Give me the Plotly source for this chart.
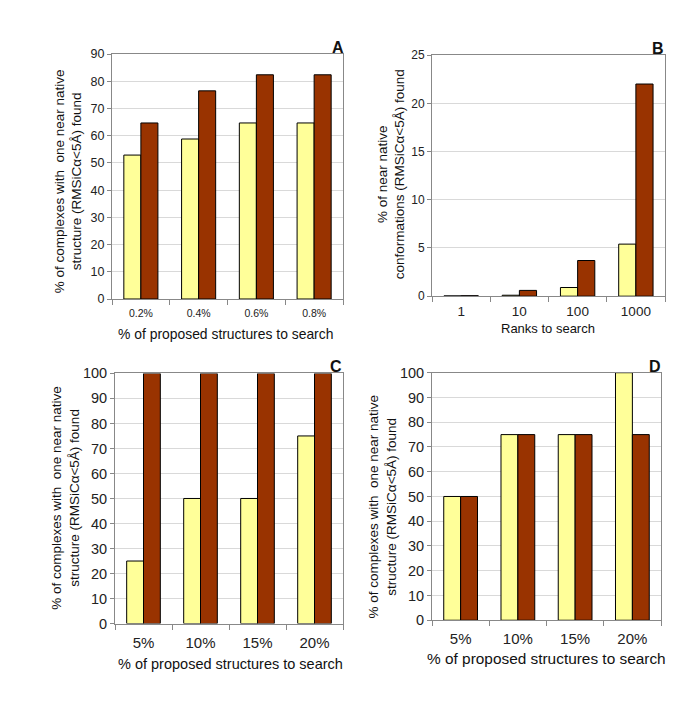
import plotly.graph_objects as go

W, H = 685, 704

# ---- data ----
cats_A = ["0.2%", "0.4%", "0.6%", "0.8%"]
yellow_A = [52.9, 58.8, 64.7, 64.7]
red_A = [64.7, 76.5, 82.4, 82.4]

cats_B = ["1", "10", "100", "1000"]
yellow_B = [0.03, 0.1, 0.9, 5.4]
red_B = [0.05, 0.6, 3.7, 22.0]

cats_C = ["5%", "10%", "15%", "20%"]
yellow_C = [25, 50, 50, 75]
red_C = [100, 100, 100, 100]

cats_D = ["5%", "10%", "15%", "20%"]
yellow_D = [50, 75, 75, 100]
red_D = [50, 75, 75, 75]

YELLOW = "#FFFF99"
RED = "#993300"
FONT = "Liberation Sans, Arial, sans-serif"

def xd(a, b):
    return [a / W, b / W]

def yd(top, bottom):
    return [1 - bottom / H, 1 - top / H]

panels = [
    dict(c=cats_A, y=yellow_A, r=red_A, x=(104, 335), yy=(39, 289.6), rng=[0, 90], dt=10, yfs=12.5, xfs=10.5, so=4),
    dict(c=cats_B, y=yellow_B, r=red_B, x=(424, 657), yy=(40, 286.7), rng=[0, 25], dt=5, yfs=12, xfs=13.5, so=3),
    dict(c=cats_C, y=yellow_C, r=red_C, x=(107, 335), yy=(365.7, 621.7), rng=[0, 100], dt=10, yfs=14.5, xfs=15, so=5),
    dict(c=cats_D, y=yellow_D, r=red_D, x=(424, 653), yy=(365, 618.3), rng=[0, 100], dt=10, yfs=14.5, xfs=15, so=5),
]

fig = go.Figure()
layout = dict(
    width=W, height=H, margin=dict(l=0, r=0, t=0, b=0),
    paper_bgcolor="white", plot_bgcolor="white",
    showlegend=False, barmode="group", bargap=0.41, bargroupgap=0,
    font=dict(family=FONT, color="#111"),
)

for i, p in enumerate(panels):
    n = "" if i == 0 else str(i + 1)
    xa, ya = "x" + n, "y" + n
    fig.add_trace(go.Bar(x=p["c"], y=p["y"], xaxis=xa, yaxis=ya,
                         marker=dict(color=YELLOW, line=dict(color="black", width=1)), offsetgroup="a"))
    fig.add_trace(go.Bar(x=p["c"], y=p["r"], xaxis=xa, yaxis=ya,
                         marker=dict(color=RED, line=dict(color="black", width=1)), offsetgroup="b"))
    layout["xaxis" + n] = dict(domain=xd(*p["x"]), anchor=ya, type="category",
                               showline=True, linecolor="#888", mirror=True, linewidth=1,
                               ticks="outside", tickson="boundaries", ticklen=5, tickcolor="#888",
                               ticklabelstandoff=p["so"],
                               tickfont=dict(size=p["xfs"], family=FONT, color="#222"), showgrid=False,
                               fixedrange=True)
    layout["yaxis" + n] = dict(domain=yd(*p["yy"]), anchor=xa, range=p["rng"], dtick=p["dt"],
                               showline=True, linecolor="#888", mirror=True, linewidth=1,
                               ticks="outside", ticklen=4, tickcolor="#888",
                               showgrid=True, gridcolor="#d9d9d9", gridwidth=1, zeroline=False,
                               tickfont=dict(size=p["yfs"], family=FONT, color="#222"), fixedrange=True)

fig.update_layout(**layout)

ytitle = "% of complexes with  one near native<br>structure (RMSiCα<5Å) found"
ytitle_B = "% of near native<br>conformations (RMSiCα<5Å) found"
xtitle = "% of proposed structures to search"

ann = []
def a(text, x, y, size, bold=False, angle=0):
    ann.append(dict(text=("<b>%s</b>" % text) if bold else text, x=x / W, y=1 - y / H,
                    xref="paper", yref="paper", showarrow=False, textangle=angle,
                    xanchor="center", yanchor="middle",
                    font=dict(size=size, family=FONT, color="#111")))

a(ytitle, 60, 169, 13.5, angle=-90)
a(ytitle_B, 383, 162, 13.5, angle=-90)
a(ytitle, 58, 493, 13.5, angle=-90)
a(ytitle, 375, 502, 13.5, angle=-90)

a(xtitle, 217, 325, 13.9)
a("Ranks to search", 540, 320, 13)
a(xtitle, 222, 663, 14.5)
a(xtitle, 538, 657, 15.4)

a("A", 330, 32, 16, bold=True)
a("B", 650, 33, 16, bold=True)
a("C", 328, 359, 16, bold=True)
a("D", 647, 359, 16, bold=True)

fig.update_layout(annotations=ann)
fig.write_html("out.html")
